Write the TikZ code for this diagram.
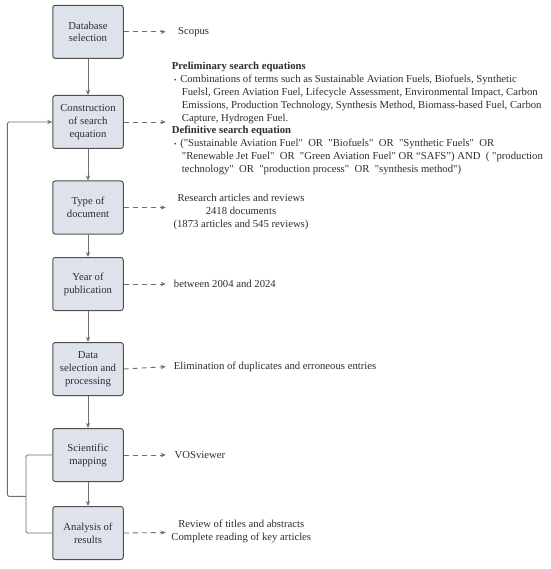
\documentclass[tikz,border=0pt]{standalone}
\usepackage{fontspec}
\setmainfont{Liberation Serif}
\usetikzlibrary{arrows.meta}
\definecolor{boxfill}{HTML}{DEE2EA}
\definecolor{boxline}{HTML}{4F4F4F}
\definecolor{conn}{HTML}{6E6E6E}
\definecolor{txt}{HTML}{2E2E2E}
\newcommand{\dqt}{\textquotedbl}
\tikzset{
  stepbox/.style={draw=boxline, fill=boxfill, line width=1pt, rounded corners=2.5pt,
    minimum width=70.5pt, minimum height=53pt, align=center, inner sep=1pt,
    font=\fontsize{10.7}{12.8}\selectfont, text=txt},
  flow/.style={draw=conn, line width=0.9pt, -{Stealth[length=5pt,width=4.2pt]}},
  dasharrow/.style={draw=conn, line width=0.9pt, dash pattern=on 5pt off 4pt, -{Stealth[length=5pt,width=4.2pt]}},
  plain/.style={draw=conn, line width=0.9pt, rounded corners=1.5pt},
  note/.style={font=\fontsize{10.7}{12.9}\selectfont, text=txt, inner sep=0pt},
}
\begin{document}
\begin{tikzpicture}[x=1pt,y=-1pt]
\useasboundingbox (0,0) rectangle (550,569);
\fill[white] (0,0) rectangle (550,569);
\node[stepbox] (b1) at (88,31.8) {Database\\selection};
\node[stepbox] (b2) at (88,122) {Construction\\of search\\equation};
\node[stepbox] (b3) at (88,207.5) {Type of\\document};
\node[stepbox] (b4) at (88,284) {Year of\\publication};
\node[stepbox] (b5) at (88,369) {Data\\selection and\\processing};
\node[stepbox] (b6) at (88,455) {Scientific\\mapping};
\node[stepbox] (b7) at (88,533) {Analysis of\\results};

\draw[flow] (b1) -- (b2);
\draw[flow] (b2) -- (b3);
\draw[flow] (b3) -- (b4);
\draw[flow] (b4) -- (b5);
\draw[flow] (b5) -- (b6);
\draw[flow] (b6) -- (b7);

\coordinate (br) at (26,496.3);
\draw[plain] (b6.west) -- (26,455) -- (26,533) -- (b7.west);
\draw[flow, rounded corners=1.5pt] (br) -- (7.3,496.3) |- (b2.west);

\node[note, anchor=west] (t1) at (178,31.8) {Scopus};
\node[note, anchor=north west, align=left] (t2) at (171.7,61.8) {%
\textbf{Preliminary search equations}\\
\hspace{2.3pt}{\scriptsize\textbullet}\hspace{3.6pt}Combinations of terms such as Sustainable Aviation Fuels, Biofuels, Synthetic\\
\hspace{10pt}Fuelsl, Green Aviation Fuel, Lifecycle Assessment, Environmental Impact, Carbon\\
\hspace{10pt}Emissions, Production Technology, Synthesis Method, Biomass-based Fuel, Carbon\\
\hspace{10pt}Capture, Hydrogen Fuel.\\
\textbf{Definitive search equation}\\
\hspace{2.3pt}{\scriptsize\textbullet}\hspace{3.6pt}(\dqt Sustainable Aviation Fuel\dqt\ \ OR\ \ \dqt Biofuels\dqt\ \ OR\ \ \dqt Synthetic Fuels\dqt\ \ OR\\
\hspace{10pt}\dqt Renewable Jet Fuel\dqt\ \ OR\ \ \dqt Green Aviation Fuel\dqt\ OR “SAFS”) AND\ \ ( \dqt production\\
\hspace{10pt}technology\dqt\ \ OR\ \ \dqt production process\dqt\ \ OR\ \ \dqt synthesis method\dqt)};
\node[note, align=center] (t3) at (241,212) {Research articles and reviews\\2418 documents\\(1873 articles and 545 reviews)};
\node[note, anchor=west] (t4) at (173.7,284) {between 2004 and 2024};
\node[note, anchor=west] (t5) at (173.7,366.7) {Elimination of duplicates and erroneous entries};
\node[note, anchor=west] (t6) at (174.4,455) {VOSviewer};
\node[note, align=center] (t7) at (241.3,531.5) {Review of titles and abstracts\\Complete reading of key articles};

\draw[dasharrow] (b1.east) -- (165.7,31.8);
\draw[dasharrow] (b2.east) -- (165.7,122);
\draw[dasharrow] (b3.east) -- (165.7,207.5);
\draw[dasharrow] (b4.east) -- (165.7,284);
\draw[dasharrow] (b5.east) -- (165.7,366.7);
\draw[dasharrow] (b6.east) -- (165.7,455);
\draw[dasharrow] (b7.east) -- (165.7,532.5);
\end{tikzpicture}
\end{document}
